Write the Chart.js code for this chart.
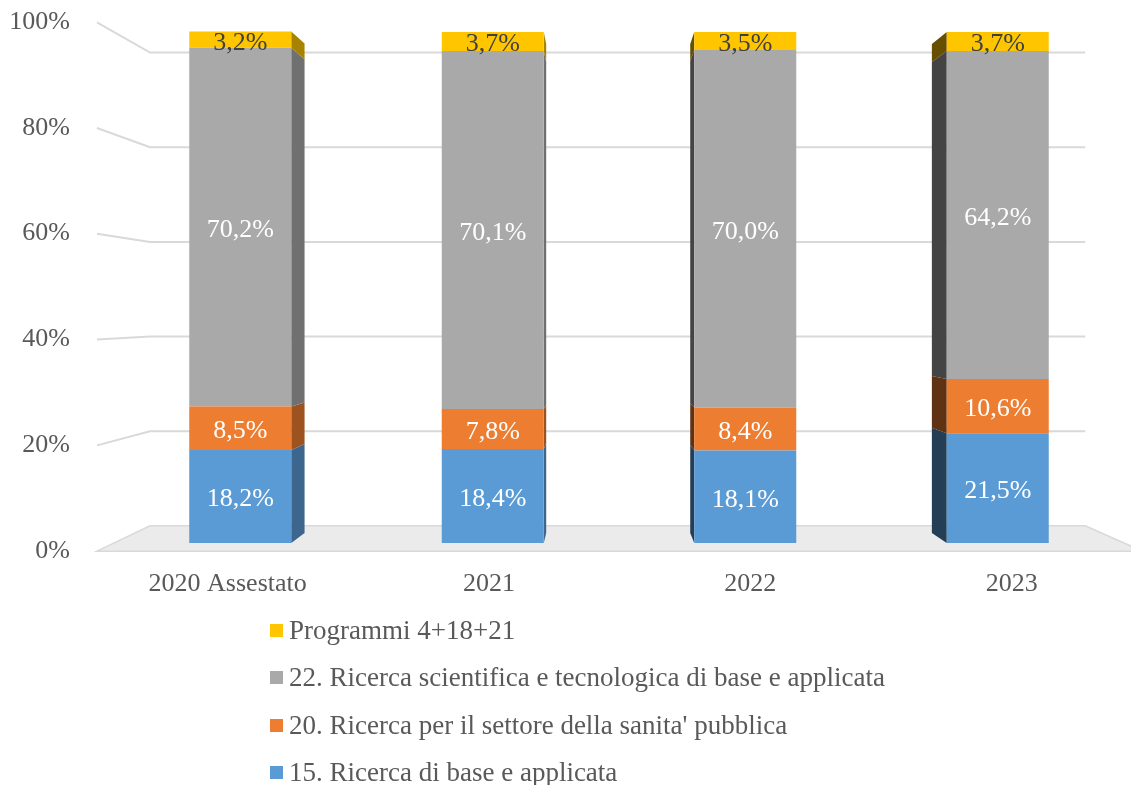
<!DOCTYPE html>
<html lang="it">
<head>
<meta charset="UTF-8">
<title>Ricerca - composizione della spesa</title>
<script src="https://cdn.jsdelivr.net/npm/chart.js"></script>
<style>
  body { margin: 0; background: #fff; font-family: "Liberation Serif", "Times New Roman", serif; }
  #wrap { position: relative; width: 1131px; height: 610px; }
  #legend { position: absolute; left: 270px; top: 607px; margin: 0; padding: 0; list-style: none; color: #595959; font-size: 27px; }
  #legend li { height: 47.3px; display: flex; align-items: center; white-space: nowrap; }
  #legend span.box { display: inline-block; width: 13px; height: 13px; margin-right: 6px; }
</style>
</head>
<body>
<div id="wrap"><canvas id="chart"></canvas></div>
<ul id="legend"></ul>
<script>
// data
const categories = ['2020 Assestato', '2021', '2022', '2023'];
const ricercaBase = [18.2, 18.4, 18.1, 21.5];
const sanitaPubblica = [8.5, 7.8, 8.4, 10.6];
const ricercaScientifica = [70.2, 70.1, 70.0, 64.2];
const programmiAltri = [3.2, 3.7, 3.5, 3.7];
const seriesNames = [
    '15. Ricerca di base e applicata',
    "20. Ricerca per il settore della sanita' pubblica",
    '22. Ricerca scientifica e tecnologica di base e applicata',
    'Programmi 4+18+21'
];
const yTicks = [0, 20, 40, 60, 80, 100];

const colors = ['#5B9BD5', '#ED7D31', '#A9A9A9', '#FFC600'];
const labelColors = ['#ffffff', '#ffffff', '#ffffff', '#404040'];

// fake 3d: vanishing point and depth factors
const VP_X = 0.482, VP_Y = 45.5;
const K_BAR = 0.957, K_WALL = 0.926, K_FRONT = 1.035;

function fmt(v) {
    return v.toFixed(1).replace('.', ',') + '%';
}

function darken(hex, f) {
    const n = parseInt(hex.slice(1), 16);
    const r = Math.round(((n >> 16) & 255) * f);
    const g = Math.round(((n >> 8) & 255) * f);
    const b = Math.round((n & 255) * f);
    return `rgb(${r},${g},${b})`;
}

function projector(chart) {
    const a = chart.chartArea;
    const y = chart.scales.y;
    const vx = a.left + (a.right - a.left) * VP_X;
    const vy = y.getPixelForValue(VP_Y);
    return { vx, vy, p: (px, py, k) => [vx + k * (px - vx), vy + k * (py - vy)] };
}

const scenePlugin = {
    id: 'scene',
    beforeDatasetsDraw(chart) {
        const ctx = chart.ctx;
        const a = chart.chartArea;
        const y = chart.scales.y;
        const { vx, p } = projector(chart);
        ctx.save();

        // floor
        const y0 = y.getPixelForValue(0);
        const fl = p(a.left, y0, K_FRONT), bl = p(a.left, y0, K_WALL);
        const br = p(a.right, y0, K_WALL), fr = p(a.right, y0, K_FRONT);
        ctx.beginPath();
        ctx.moveTo(fl[0], fl[1]);
        ctx.lineTo(bl[0], bl[1]);
        ctx.lineTo(br[0], br[1]);
        ctx.lineTo(fr[0], fr[1]);
        ctx.closePath();
        ctx.fillStyle = '#ebebeb';
        ctx.fill();
        ctx.strokeStyle = '#d9d9d9';
        ctx.lineWidth = 1.5;
        ctx.stroke();

        // gridlines on the side and back walls
        yTicks.forEach(v => {
            if (v === 0) return;
            const py = y.getPixelForValue(v);
            const f = p(a.left, py, K_FRONT), b = p(a.left, py, K_WALL), r = p(a.right, py, K_WALL);
            ctx.beginPath();
            ctx.moveTo(f[0], f[1]);
            ctx.lineTo(b[0], b[1]);
            ctx.lineTo(r[0], r[1]);
            ctx.strokeStyle = '#d9d9d9';
            ctx.lineWidth = 2;
            ctx.stroke();
        });

        // side faces of the bars
        chart.data.datasets.forEach((ds, i) => {
            const meta = chart.getDatasetMeta(i);
            meta.data.forEach(el => {
                const { x, y: top, base, width } = el.getProps(['x', 'y', 'base', 'width'], true);
                const left = x - width / 2, right = x + width / 2;
                let edge, shade;
                if (right < vx) { edge = right; shade = 0.66; }
                else if (left > vx) { edge = left; shade = 0.4; }
                else return;
                const q1 = p(edge, top, 1), q2 = p(edge, top, K_BAR);
                const q3 = p(edge, base, K_BAR), q4 = p(edge, base, 1);
                ctx.beginPath();
                ctx.moveTo(q1[0], q1[1]);
                ctx.lineTo(q2[0], q2[1]);
                ctx.lineTo(q3[0], q3[1]);
                ctx.lineTo(q4[0], q4[1]);
                ctx.closePath();
                ctx.fillStyle = darken(ds.backgroundColor, shade);
                ctx.fill();
            });
        });
        ctx.restore();
    },
    afterDatasetsDraw(chart) {
        const ctx = chart.ctx;
        ctx.save();
        ctx.font = "26px 'Liberation Serif', 'Times New Roman', serif";
        ctx.textAlign = 'center';
        ctx.textBaseline = 'middle';
        chart.data.datasets.forEach((ds, i) => {
            const meta = chart.getDatasetMeta(i);
            meta.data.forEach((el, j) => {
                const { x, y, base } = el.getProps(['x', 'y', 'base'], true);
                ctx.fillStyle = labelColors[i];
                ctx.fillText(fmt(ds.data[j]), x, (y + base) / 2 + 3);
            });
        });
        ctx.restore();
    }
};

Chart.defaults.font.family = "'Liberation Serif', 'Times New Roman', serif";
Chart.defaults.font.size = 26;
Chart.defaults.color = '#595959';

const seriesData = [ricercaBase, sanitaPubblica, ricercaScientifica, programmiAltri];

const ctx = document.getElementById('chart').getContext('2d');
const chart = new Chart(ctx, {
    type: 'bar',
    data: {
        labels: categories,
        datasets: seriesData.map((d, i) => ({
            label: seriesNames[i],
            data: d,
            backgroundColor: colors[i],
            borderWidth: 0,
            barPercentage: 0.404,
            categoryPercentage: 1
        }))
    },
    options: {
        responsive: true,
        maintainAspectRatio: false,
        animation: false,
        layout: { padding: { top: 22, right: 7, left: 0, bottom: 0 } },
        plugins: {
            legend: { display: false },
            tooltip: { enabled: false }
        },
        scales: {
            x: { stacked: true, display: false },
            y: { stacked: true, display: false, min: -1.566, max: 101.96 },
            // label axes, placed on the front edge of the 3d box
            x2: {
                type: 'linear',
                position: 'bottom',
                offset: false,
                min: -0.435,
                max: 3.43,
                grid: { display: false, drawTicks: true, tickLength: 16 },
                border: { display: false },
                afterBuildTicks: axis => { axis.ticks = categories.map((_, i) => ({ value: i })); },
                afterFit: axis => { axis.height = 59; },
                ticks: {
                    padding: 2,
                    autoSkip: false,
                    maxRotation: 0,
                    callback: (v, i) => categories[i]
                }
            },
            y2: {
                type: 'linear',
                position: 'left',
                offset: false,
                min: 0,
                max: 100,
                grid: { display: false, drawTicks: true, tickLength: 42 },
                border: { display: false },
                afterFit: axis => { axis.width = 114; },
                ticks: {
                    stepSize: 20,
                    padding: 2,
                    callback: v => v + '%'
                }
            }
        }
    },
    plugins: [scenePlugin]
});

// legend, same order as the original (top segment first)
const legend = document.getElementById('legend');
[3, 2, 1, 0].forEach(i => {
    const li = document.createElement('li');
    li.innerHTML = `<span class="box" style="background:${colors[i]}"></span>`;
    li.appendChild(document.createTextNode(seriesNames[i]));
    legend.appendChild(li);
});
</script>
</body>
</html>
